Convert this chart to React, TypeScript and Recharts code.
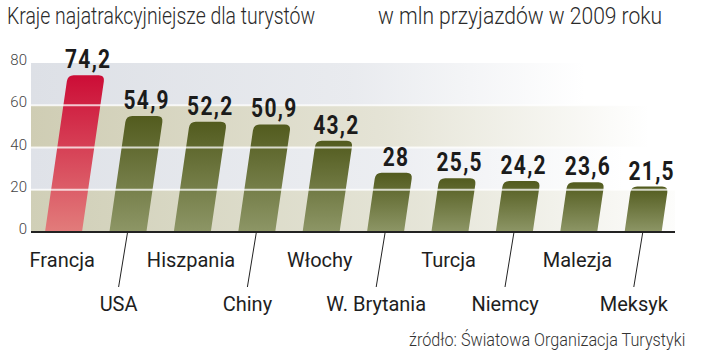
import React from "react";
import {
  BarChart,
  Bar,
  XAxis,
  YAxis,
  Cell,
  LabelList,
  ReferenceArea,
  ReferenceLine,
} from "recharts";

// dane: przyjazdy turystów w mln, 2009
const countries = [
  "Francja",
  "USA",
  "Hiszpania",
  "Chiny",
  "Włochy",
  "W. Brytania",
  "Turcja",
  "Niemcy",
  "Malezja",
  "Meksyk",
];
const arrivals = [74.2, 54.9, 52.2, 50.9, 43.2, 28, 25.5, 24.2, 23.6, 21.5];
const highlighted = ["Francja"];
const yTicks = [0, 20, 40, 60, 80];
const gridValues = [20, 40, 60];
const bandEdges = [0, 20, 40, 60, 80];

const data = countries.map((name, i) => ({ name, value: arrivals[i] }));

const SLANT = 0.145;
const FONT = "Roboto, sans-serif";

const fmt = (v: number) => String(v).replace(".", ",");

function SlantedBar(props: any) {
  const { x, y, width: w, height: h, fill } = props;
  if (!h || h <= 0) return null;
  const s = h * SLANT;
  const r = 6;
  const by = y + h;
  const d = [
    `M${x},${by}`,
    `L${x + s - r * SLANT},${y + r}`,
    `Q${x + s},${y} ${x + s + r},${y}`,
    `L${x + w + s - r},${y}`,
    `Q${x + w + s},${y} ${x + w + s - r * SLANT},${y + r}`,
    `L${x + w},${by}`,
    "Z",
  ].join(" ");
  return <path d={d} fill={fill} />;
}

function ValueLabel(props: any) {
  const { x, y, width, height, value } = props;
  const cx = x + width / 2 + height * SLANT + 2;
  return (
    <text
      transform={`translate(${cx},${y - 7}) scale(0.84,1)`}
      textAnchor="middle"
      fill="#1b1b1b"
      style={{ fontFamily: FONT, fontWeight: 700, fontSize: 25, letterSpacing: 1.5 }}
    >
      {fmt(value)}
    </text>
  );
}

function YTick({ x, y, payload }: any) {
  return (
    <text
      x={x - 4}
      y={y + 2}
      textAnchor="end"
      fill="#444"
      style={{ fontFamily: FONT, fontWeight: 300, fontSize: 15 }}
    >
      {payload.value}
    </text>
  );
}

function CountryTick({ x, y, payload, index }: any) {
  const lower = index % 2 === 1;
  const font = { fontFamily: FONT, fontSize: 20 };
  if (!lower) {
    return (
      <text x={x - 1} y={y + 35} textAnchor="middle" fill="#1e1e1e" style={font}>
        {payload.value}
      </text>
    );
  }
  return (
    <g>
      <line x1={x} y1={y} x2={x - 9} y2={y + 55} stroke="#222" strokeWidth={1} />
      <text x={x - 9} y={y + 79} textAnchor="middle" fill="#1e1e1e" style={font}>
        {payload.value}
      </text>
    </g>
  );
}

const bandFills = ["url(#bandOlive)", "url(#bandBlue)", "url(#bandOlive2)", "url(#bandBlueTop)"];

const headText: React.CSSProperties = {
  position: "absolute",
  top: 3,
  fontFamily: FONT,
  fontWeight: 300,
  fontSize: 23,
  color: "#2a2a2a",
  whiteSpace: "nowrap",
  transformOrigin: "left top",
};

export default function App() {
  return (
    <div
      style={{
        position: "absolute",
        left: 0,
        top: 0,
        width: 720,
        height: 358,
        background: "#fff",
        overflow: "hidden",
      }}
    >
      <div style={{ ...headText, left: 7, transform: "scaleX(0.845)" }}>
        Kraje najatrakcyjniejsze dla turystów
      </div>
      <div style={{ ...headText, left: 378, transform: "scaleX(0.915)" }}>
        w mln przyjazdów w 2009 roku
      </div>

      <BarChart
        width={720}
        height={358}
        data={data}
        margin={{ top: 63, right: 45, bottom: 0, left: 0 }}
        barSize={37}
      >
        <defs>
          <linearGradient id="redBar" x1="0" y1="0" x2="0" y2="1">
            <stop offset="0%" stopColor="#cc0d36" />
            <stop offset="100%" stopColor="#e27c7b" />
          </linearGradient>
          <linearGradient id="oliveBar" x1="0" y1="0" x2="0" y2="1">
            <stop offset="0%" stopColor="#525b1e" />
            <stop offset="100%" stopColor="#8d9666" />
          </linearGradient>
          <linearGradient id="bandBlueTop" x1="0" y1="0" x2="1" y2="0">
            <stop offset="0%" stopColor="#dde0e6" stopOpacity={1} />
            <stop offset="50%" stopColor="#dde0e6" stopOpacity={0.65} />
            <stop offset="86%" stopColor="#dde0e6" stopOpacity={0} />
          </linearGradient>
          <linearGradient id="bandBlue" x1="0" y1="0" x2="1" y2="0">
            <stop offset="0%" stopColor="#dfe2e8" stopOpacity={1} />
            <stop offset="55%" stopColor="#dfe2e8" stopOpacity={0.6} />
            <stop offset="92%" stopColor="#dfe2e8" stopOpacity={0} />
          </linearGradient>
          <linearGradient id="bandOlive2" x1="0" y1="0" x2="1" y2="0">
            <stop offset="0%" stopColor="#cfcdb4" stopOpacity={1} />
            <stop offset="55%" stopColor="#cfcdb4" stopOpacity={0.55} />
            <stop offset="96%" stopColor="#cfcdb4" stopOpacity={0} />
          </linearGradient>
          <linearGradient id="bandOlive" x1="0" y1="0" x2="1" y2="0">
            <stop offset="0%" stopColor="#d0cfb7" stopOpacity={1} />
            <stop offset="60%" stopColor="#d0cfb7" stopOpacity={0.55} />
            <stop offset="100%" stopColor="#d0cfb7" stopOpacity={0.05} />
          </linearGradient>
        </defs>

        {bandEdges.slice(0, -1).map((v, i) => (
          <ReferenceArea
            key={`band-${v}`}
            y1={v}
            y2={bandEdges[i + 1]}
            fill={bandFills[i]}
            fillOpacity={1}
            stroke="none"
            ifOverflow="visible"
          />
        ))}

        <XAxis
          dataKey="name"
          height={126}
          interval={0}
          tickLine={false}
          tickSize={0}
          tickMargin={0}
          axisLine={{ stroke: "#222", strokeWidth: 2 }}
          tick={<CountryTick />}
        />
        <YAxis
          width={31}
          domain={[0, 80]}
          ticks={yTicks}
          axisLine={false}
          tickLine={false}
          tickSize={0}
          tickMargin={0}
          tick={<YTick />}
        />

        <Bar dataKey="value" shape={<SlantedBar />} isAnimationActive={false}>
          {data.map((d) => (
            <Cell
              key={d.name}
              fill={highlighted.includes(d.name) ? "url(#redBar)" : "url(#oliveBar)"}
            />
          ))}
          <LabelList dataKey="value" content={<ValueLabel />} />
        </Bar>

        {gridValues.map((v) => (
          <ReferenceLine key={`grid-${v}`} y={v} stroke="#fff" strokeWidth={2} strokeOpacity={0.75} />
        ))}
      </BarChart>

      <div
        style={{
          position: "absolute",
          left: 409,
          top: 329,
          fontFamily: FONT,
          fontWeight: 300,
          fontSize: 18,
          color: "#333",
          whiteSpace: "nowrap",
          transform: "scaleX(0.9)",
          transformOrigin: "left top",
        }}
      >
        źródło: Światowa Organizacja Turystyki
      </div>
    </div>
  );
}
